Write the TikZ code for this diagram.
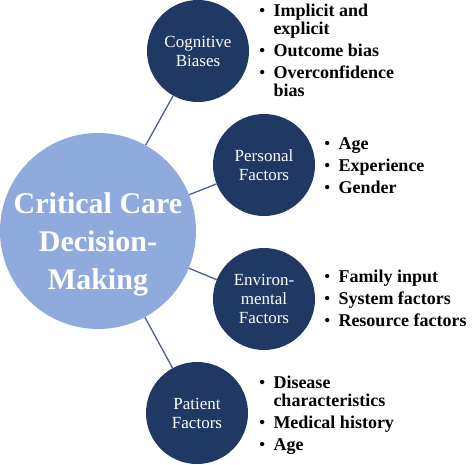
\documentclass[tikz,border=0pt]{standalone}
\usepackage{fontspec}
\setmainfont{Liberation Serif}
\definecolor{navy}{RGB}{31,56,100}
\definecolor{lightblue}{RGB}{143,170,220}
\definecolor{linkcol}{RGB}{72,96,142}
\begin{document}
\begin{tikzpicture}[x=1pt,y=-1pt,
  bigc/.style={circle,fill=lightblue,minimum size=196pt,inner sep=0pt},
  smallc/.style={circle,fill=navy,minimum size=102pt,inner sep=0pt,text=white,align=center,font=\fontsize{17}{19}\selectfont},
  link/.style={draw=linkcol,line width=1.3pt},
  blist/.style={anchor=base west,inner sep=0pt,font=\bfseries\fontsize{18}{18}\selectfont}
]
\useasboundingbox (0,0) rectangle (474,464);
\node[bigc] (c0) at (98,231) {};
\node[smallc] (c1) at (198,51) {Cognitive\\Biases};
\node[smallc] (c2) at (264,165) {Personal\\Factors};
\node[smallc] (c3) at (264,299) {Environ-\\mental\\Factors};
\node[smallc] (c4) at (197,413) {Patient\\Factors};
\draw[link] (c0) -- (c1);
\draw[link] (c0) -- (c2);
\draw[link] (c0) -- (c3);
\draw[link] (c0) -- (c4);
\node[text=white,align=center,font=\bfseries\fontsize{30}{38}\selectfont] (c0t) at (98,244) {Critical Care\\Decision-\\Making};
\node[blist] (l1) at (259,16) {\begin{tabular}[t]{@{}c@{\hspace{8pt}}l@{}}
\textmd{\textbullet} & Implicit and\\
 & explicit\\[4pt]
\textmd{\textbullet} & Outcome bias\\[4pt]
\textmd{\textbullet} & Overconfidence\\
 & bias
\end{tabular}};
\node[blist] (l2) at (324,149) {\begin{tabular}[t]{@{}c@{\hspace{8pt}}l@{}}
\textmd{\textbullet} & Age\\[4pt]
\textmd{\textbullet} & Experience\\[4pt]
\textmd{\textbullet} & Gender
\end{tabular}};
\node[blist] (l3) at (324,282) {\begin{tabular}[t]{@{}c@{\hspace{8pt}}l@{}}
\textmd{\textbullet} & Family input\\[4pt]
\textmd{\textbullet} & System factors\\[4pt]
\textmd{\textbullet} & Resource factors
\end{tabular}};
\node[blist] (l4) at (259,388) {\begin{tabular}[t]{@{}c@{\hspace{8pt}}l@{}}
\textmd{\textbullet} & Disease\\
 & characteristics\\[4pt]
\textmd{\textbullet} & Medical history\\[4pt]
\textmd{\textbullet} & Age
\end{tabular}};
\end{tikzpicture}
\end{document}
